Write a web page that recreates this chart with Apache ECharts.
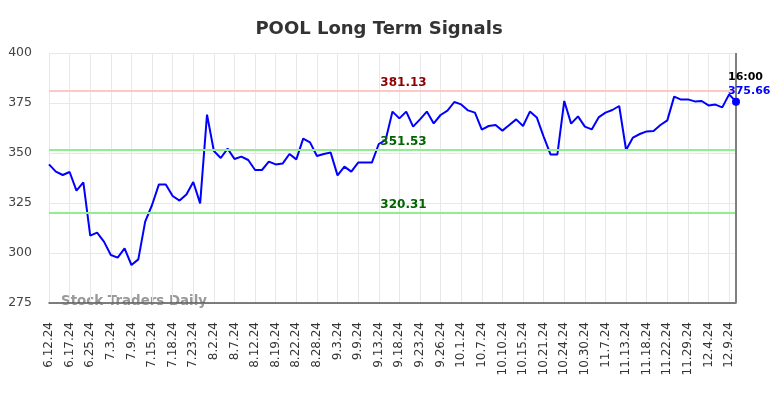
<!DOCTYPE html>
<html>
<head>
<meta charset="utf-8">
<script src="https://cdn.jsdelivr.net/npm/echarts@6/dist/echarts.min.js"></script>
<style>
  html, body { margin: 0; padding: 0; background: #fff; }
  #chart { width: 784px; height: 398px; }
</style>
</head>
<body>
<div id="chart"></div>
<script>
// POOL daily closes, 6.12.24 - 12.10.24
const dates = [
  '6.12.24', '6.13.24', '6.14.24', '6.17.24', '6.18.24', '6.20.24',
  '6.25.24', '6.26.24', '6.28.24', '7.3.24', '7.5.24', '7.8.24',
  '7.9.24', '7.11.24', '7.12.24', '7.15.24', '7.16.24', '7.17.24',
  '7.18.24', '7.19.24', '7.22.24', '7.23.24', '7.26.24', '7.31.24',
  '8.2.24', '8.5.24', '8.6.24', '8.7.24', '8.8.24', '8.9.24',
  '8.12.24', '8.14.24', '8.16.24', '8.19.24', '8.20.24', '8.21.24',
  '8.22.24', '8.23.24', '8.27.24', '8.28.24', '8.29.24', '8.30.24',
  '9.3.24', '9.4.24', '9.6.24', '9.9.24', '9.11.24', '9.12.24',
  '9.13.24', '9.16.24', '9.17.24', '9.18.24', '9.19.24', '9.20.24',
  '9.23.24', '9.24.24', '9.25.24', '9.26.24', '9.27.24', '9.30.24',
  '10.1.24', '10.2.24', '10.4.24', '10.7.24', '10.8.24', '10.9.24',
  '10.10.24', '10.11.24', '10.14.24', '10.15.24', '10.17.24', '10.18.24',
  '10.21.24', '10.22.24', '10.23.24', '10.24.24', '10.25.24', '10.28.24',
  '10.30.24', '11.1.24', '11.5.24', '11.7.24', '11.8.24', '11.11.24',
  '11.13.24', '11.14.24', '11.15.24', '11.18.24', '11.19.24', '11.21.24',
  '11.22.24', '11.26.24', '11.27.24', '11.29.24', '12.2.24', '12.3.24',
  '12.4.24', '12.5.24', '12.6.24', '12.9.24', '12.10.24'
];

const prices = [
  344.3, 340.7, 339.0, 340.5, 331.2, 335.3, 308.7, 310.2, 305.7, 299.0,
  297.7, 302.3, 294.0, 296.8, 315.7, 324.0, 334.3, 334.3, 328.5, 326.2,
  329.3, 335.5, 324.8, 369.2, 351.0, 347.5, 352.2, 347.0, 348.2, 346.5,
  341.5, 341.5, 345.7, 344.3, 344.7, 349.5, 346.8, 357.2, 355.3, 348.5,
  349.5, 350.2, 338.8, 343.2, 340.7, 345.2, 345.2, 345.2, 354.5, 356.5,
  370.7, 367.3, 370.7, 363.2, 366.8, 370.7, 364.8, 369.0, 371.2, 375.5,
  374.3, 371.3, 370.2, 361.7, 363.5, 364.0, 361.2, 364.0, 366.8, 363.5,
  370.7, 367.8, 358.2, 349.3, 349.3, 376.0, 364.7, 368.3, 363.2, 361.8,
  367.8, 370.2, 371.5, 373.5, 351.5, 357.7, 359.5, 360.8, 361.0, 364.0,
  366.3, 378.2, 376.7, 376.8, 375.8, 376.0, 373.8, 374.2, 372.8, 379.3,
  375.66
];

const resistance = [381.13];
const supports = [351.53, 320.31];
const yTicks = [275, 400, 25];
const lastTime = '16:00';

const chart = echarts.init(document.getElementById('chart'));
const lastIdx = prices.length - 1;

chart.setOption({
  animation: false,
  title: {
    text: 'POOL Long Term Signals',
    left: 374,
    textAlign: 'center',
    top: 15,
    textStyle: { fontFamily: 'DejaVu Sans', fontSize: 18, fontWeight: 'bold', color: '#333' }
  },
  grid: { left: 49, right: 48, top: 53, bottom: 95 },
  graphic: [{
    type: 'text',
    left: 61,
    top: 295,
    style: {
      text: 'Stock Traders Daily',
      font: 'bold 13.4px "DejaVu Sans"',
      fill: '#999'
    }
  }],
  xAxis: {
    type: 'category',
    data: dates,
    boundaryGap: false,
    axisLine: { lineStyle: { color: '#555', width: 1.5 } },
    axisTick: { show: false },
    axisLabel: {
      interval: 2,
      rotate: 90,
      fontFamily: 'DejaVu Sans',
      fontSize: 12,
      color: '#333',
      margin: 19
    },
    splitLine: { show: true, interval: 2, lineStyle: { color: '#e8e8e8', width: 1 } }
  },
  yAxis: {
    type: 'value',
    min: yTicks[0],
    max: yTicks[1],
    interval: yTicks[2],
    axisLine: { show: false },
    axisTick: { show: false },
    axisLabel: { fontFamily: 'DejaVu Sans', fontSize: 12.5, color: '#444', margin: 17 },
    splitLine: { lineStyle: { color: '#e8e8e8', width: 1 } }
  },
  series: [{
    type: 'line',
    data: prices,
    symbol: 'none',
    lineStyle: { color: '#0000ff', width: 2 },
    markLine: {
      silent: true,
      symbol: 'none',
      data: [
        {
          yAxis: resistance[0],
          lineStyle: { color: '#ffc8c8', width: 2, type: 'solid' },
          label: { color: '#8b0000' }
        },
        {
          yAxis: supports[0],
          lineStyle: { color: '#90ee90', width: 2, type: 'solid' },
          label: { color: '#006400' }
        },
        {
          yAxis: supports[1],
          lineStyle: { color: '#90ee90', width: 2, type: 'solid' },
          label: { color: '#006400' }
        },
        {
          xAxis: dates[lastIdx],
          lineStyle: { color: '#808080', width: 2, type: 'solid' },
          label: { show: false }
        }
      ],
      label: {
        position: 'insideMiddleTop',
        offset: [11, 3],
        fontFamily: 'DejaVu Sans',
        fontSize: 12,
        fontWeight: 'bold',
        formatter: p => p.value.toFixed(2)
      }
    },
    markPoint: {
      silent: true,
      symbol: 'circle',
      symbolSize: 8,
      itemStyle: { color: '#0000ff' },
      data: [{ coord: [lastIdx, prices[lastIdx]] }],
      label: {
        show: true,
        position: [-4, -28],
        align: 'left',
        formatter: () => '{t|' + lastTime + '}\n{v|' + prices[lastIdx].toFixed(2) + '}',
        rich: {
          t: { fontFamily: 'DejaVu Sans', fontSize: 11, fontWeight: 'bold', color: '#000', lineHeight: 14 },
          v: { fontFamily: 'DejaVu Sans', fontSize: 11, fontWeight: 'bold', color: '#0000ff', lineHeight: 14 }
        }
      }
    }
  }]
});
</script>
</body>
</html>
